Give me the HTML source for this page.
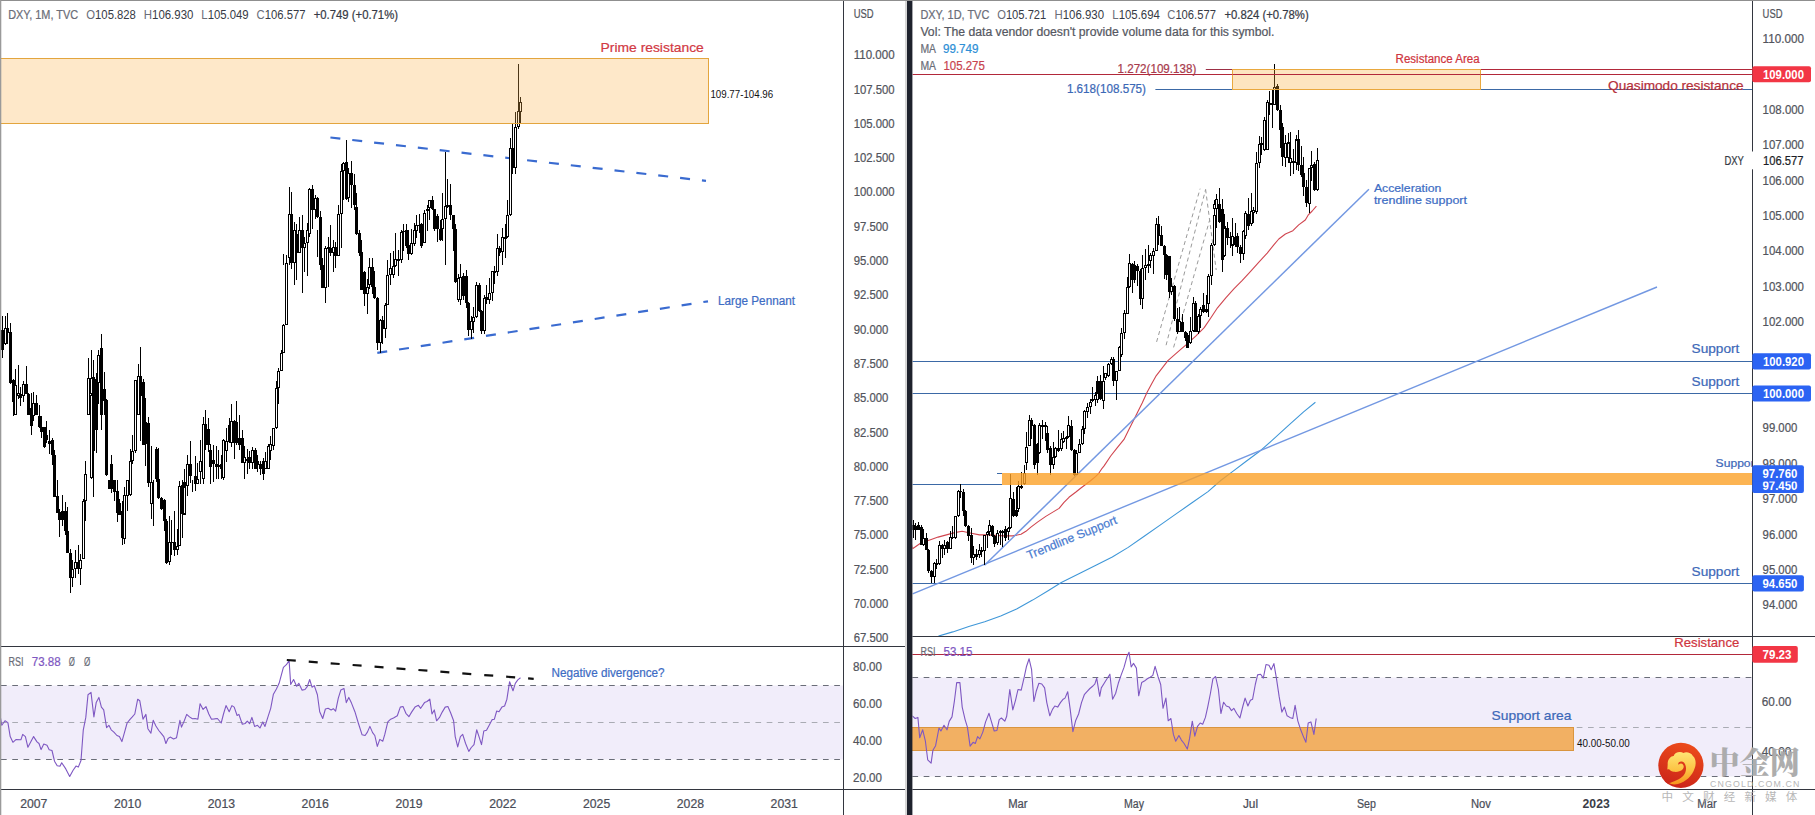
<!DOCTYPE html>
<html lang="en"><head><meta charset="utf-8"><title>DXY charts</title>
<style>
html,body{margin:0;padding:0;background:#fff;}
body{width:1815px;height:815px;overflow:hidden;}
svg{display:block;font-family:'Liberation Sans', 'Noto Sans CJK SC', sans-serif;}
</style></head><body>
<svg width="1815" height="815" viewBox="0 0 1815 815">
<rect width="1815" height="815" fill="#fff"/>
<rect x="1.0" y="685.5" width="842.5" height="74.0" fill="#f1edfa" />
<path d="M1.0 685.5H843.5" stroke="#6a6d78" stroke-width="1" stroke-dasharray="5.7 5.56"/>
<path d="M1.0 722.5H843.5" stroke="#a9abb3" stroke-width="1" stroke-dasharray="5.7 5.56"/>
<path d="M1.0 759.5H843.5" stroke="#6a6d78" stroke-width="1" stroke-dasharray="5.7 5.56"/>
<path d="M330.4 137.5L706.0 180.9" stroke="#3a6bd0" stroke-width="2.2" fill="none" stroke-linejoin="round" stroke-dasharray="10 12" stroke-linecap="butt"/>
<path d="M377.3 352.9L708.0 301.3" stroke="#3a6bd0" stroke-width="2.2" fill="none" stroke-linejoin="round" stroke-dasharray="10 12" stroke-linecap="butt"/>
<path d="M520 97h1V123h-1zM519 102h3V112h-3zM518 64h1V129h-1zM517 111h3V127h-3zM515 112h1V174h-1zM514 127h3V168h-3zM512 123h1V174h-1zM511 148h3V168h-3zM510 138h1V216h-1zM509 148h3V215h-3zM507 200h1V238h-1zM506 215h3V237h-3zM505 224h1V258h-1zM504 237h3V239h-3zM502 228h1V265h-1zM501 237h3V252h-3zM499 246h1V256h-1zM498 248h3V253h-3zM497 234h1V276h-1zM496 248h3V252h-3zM496 271h3V272h-3zM496 248h3V272h-3zM494 266h1V284h-1zM493 271h3V273h-3zM492 271h1V301h-1zM491 271h3V293h-3zM489 278h1V304h-1zM488 293h3V300h-3zM486 285h1V304h-1zM485 297h3V300h-3zM484 295h1V334h-1zM483 298h3V331h-3zM481 310h1V334h-1zM480 311h3V331h-3zM479 283h1V312h-1zM478 285h3V311h-3zM476 282h1V318h-1zM475 285h3V317h-3zM473 307h1V333h-1zM472 317h3V322h-3zM471 316h1V339h-1zM470 321h3V330h-3zM468 302h1V336h-1zM467 303h3V330h-3zM466 270h1V308h-1zM465 276h3V303h-3zM463 273h1V300h-1zM462 276h3V296h-3zM460 264h1V305h-1zM459 277h3V300h-3zM458 274h1V302h-1zM457 278h3V300h-3zM455 224h1V283h-1zM454 229h3V282h-3zM453 215h1V251h-1zM452 215h3V229h-3zM450 184h1V220h-1zM449 205h3V215h-3zM447 179h1V208h-1zM446 205h3V207h-3zM445 152h1V265h-1zM444 206h3V219h-3zM442 193h1V241h-1zM441 219h3V229h-3zM440 220h1V241h-1zM439 229h3V240h-3zM437 214h1V242h-1zM436 216h3V229h-3zM434 210h1V231h-1zM433 209h3V229h-3zM432 196h1V210h-1zM431 200h3V209h-3zM429 200h1V220h-1zM428 200h3V208h-3zM427 205h1V231h-1zM426 209h3V211h-3zM424 210h1V243h-1zM423 213h3V243h-3zM421 223h1V248h-1zM420 224h3V246h-3zM419 214h1V233h-1zM418 225h3V226h-3zM416 215h1V238h-1zM415 225h3V231h-3zM414 223h1V246h-1zM413 230h3V244h-3zM411 229h1V255h-1zM410 243h3V254h-3zM408 230h1V260h-1zM407 245h3V254h-3zM406 224h1V248h-1zM405 230h3V246h-3zM403 224h1V251h-1zM402 231h3V232h-3zM401 230h1V263h-1zM400 232h3V260h-3zM398 250h1V276h-1zM397 259h3V261h-3zM395 233h1V267h-1zM394 259h3V266h-3zM393 251h1V278h-1zM392 266h3V275h-3zM390 253h1V285h-1zM389 268h3V275h-3zM387 260h1V305h-1zM386 275h3V305h-3zM385 303h1V338h-1zM384 305h3V329h-3zM382 316h1V344h-1zM381 320h3V329h-3zM380 319h1V353h-1zM379 320h3V343h-3zM377 297h1V350h-1zM376 298h3V343h-3zM374 271h1V299h-1zM373 287h3V298h-3zM372 258h1V294h-1zM371 267h3V287h-3zM369 258h1V289h-1zM368 267h3V285h-3zM367 279h1V314h-1zM366 287h3V294h-3zM364 271h1V306h-1zM363 272h3V294h-3zM361 240h1V290h-1zM360 252h3V290h-3zM359 230h1V256h-1zM358 233h3V253h-3zM356 193h1V235h-1zM355 207h3V234h-3zM354 174h1V210h-1zM353 185h3V205h-3zM351 161h1V208h-1zM350 173h3V185h-3zM348 168h1V202h-1zM347 173h3V198h-3zM346 140h1V200h-1zM345 162h3V199h-3zM343 162h1V200h-1zM342 163h3V171h-3zM341 164h1V248h-1zM340 171h3V214h-3zM338 205h1V256h-1zM337 214h3V256h-3zM335 242h1V268h-1zM334 247h3V256h-3zM333 240h1V272h-1zM332 247h3V253h-3zM330 225h1V256h-1zM329 248h3V253h-3zM328 237h1V287h-1zM327 247h3V249h-3zM325 246h1V303h-1zM324 248h3V288h-3zM322 258h1V288h-1zM321 265h3V288h-3zM320 211h1V270h-1zM319 217h3V265h-3zM317 197h1V218h-1zM317 230h1V257h-1zM316 198h3V217h-3zM315 195h1V219h-1zM314 198h3V210h-3zM312 185h1V229h-1zM311 189h3V210h-3zM309 188h1V237h-1zM308 189h3V234h-3zM307 223h1V276h-1zM306 230h3V243h-3zM304 237h1V272h-1zM303 243h3V248h-3zM302 215h1V293h-1zM301 230h3V248h-3zM299 217h1V253h-1zM298 230h3V253h-3zM296 224h1V280h-1zM295 234h3V253h-3zM294 222h1V285h-1zM293 230h3V263h-3zM291 192h1V269h-1zM290 214h3V263h-3zM289 187h1V265h-1zM288 214h3V258h-3zM286 255h1V325h-1zM285 263h3V325h-3zM283 254h1V265h-1zM283 324h1V353h-1zM282 325h3V353h-3zM281 350h1V371h-1zM280 353h3V371h-3zM278 368h1V404h-1zM277 371h3V388h-3zM276 381h1V429h-1zM275 388h3V428h-3zM273 428h1V450h-1zM272 428h3V446h-3zM270 436h1V460h-1zM269 444h3V451h-3zM268 444h1V469h-1zM267 446h3V469h-3zM265 452h1V469h-1zM264 461h3V469h-3zM263 458h1V480h-1zM262 461h3V474h-3zM260 461h1V475h-1zM259 464h3V469h-3zM257 455h1V472h-1zM256 461h3V465h-3zM255 448h1V469h-1zM254 450h3V469h-3zM252 447h1V469h-1zM251 450h3V463h-3zM249 451h1V469h-1zM248 457h3V463h-3zM247 449h1V474h-1zM246 459h3V461h-3zM244 446h1V479h-1zM243 457h3V463h-3zM242 430h1V455h-1zM241 438h3V463h-3zM239 415h1V450h-1zM238 438h3V445h-3zM236 401h1V445h-1zM235 422h3V443h-3zM234 420h1V459h-1zM233 421h3V443h-3zM231 404h1V447h-1zM230 421h3V443h-3zM229 418h1V443h-1zM228 425h3V442h-3zM226 428h1V462h-1zM225 441h3V451h-3zM223 439h1V480h-1zM222 440h3V478h-3zM221 455h1V479h-1zM220 464h3V469h-3zM218 450h1V479h-1zM217 465h3V467h-3zM216 446h1V479h-1zM215 464h3V467h-3zM213 445h1V482h-1zM212 460h3V464h-3zM210 444h1V484h-1zM209 450h3V467h-3zM208 418h1V452h-1zM207 429h3V445h-3zM205 410h1V450h-1zM204 424h3V445h-3zM203 417h1V484h-1zM202 424h3V479h-3zM200 440h1V484h-1zM199 461h3V472h-3zM197 463h1V484h-1zM196 479h3V484h-3zM195 456h1V491h-1zM194 476h3V484h-3zM192 480h1V492h-1zM190 441h1V483h-1zM189 464h3V476h-3zM187 455h1V496h-1zM186 464h3V486h-3zM184 469h1V515h-1zM183 482h3V515h-3zM183 487h3V514h-3zM182 480h1V538h-1zM181 485h3V514h-3zM179 481h1V546h-1zM178 486h3V546h-3zM177 529h1V555h-1zM176 546h3V550h-3zM174 511h1V556h-1zM173 542h3V550h-3zM171 520h1V555h-1zM170 542h3V543h-3zM169 516h1V565h-1zM168 542h3V562h-3zM166 519h1V564h-1zM165 521h3V563h-3zM164 499h1V531h-1zM163 500h3V521h-3zM161 497h1V510h-1zM160 498h3V509h-3zM158 448h1V499h-1zM157 479h3V498h-3zM156 447h1V482h-1zM155 449h3V479h-3zM153 480h1V526h-1zM151 446h1V519h-1zM150 483h3V503h-3zM150 482h3V504h-3zM148 417h1V487h-1zM147 423h3V483h-3zM145 398h1V466h-1zM144 422h3V444h-3zM143 379h1V445h-1zM142 382h3V445h-3zM140 347h1V441h-1zM139 376h3V396h-3zM138 364h1V415h-1zM137 376h3V415h-3zM135 430h1V453h-1zM134 380h3V451h-3zM132 435h1V464h-1zM131 451h3V461h-3zM130 449h1V496h-1zM129 461h3V495h-3zM127 480h1V511h-1zM126 480h3V496h-3zM124 487h1V544h-1zM123 495h3V539h-3zM122 501h1V545h-1zM121 511h3V538h-3zM119 499h1V515h-1zM118 503h3V515h-3zM117 480h1V522h-1zM116 491h3V513h-3zM114 480h1V501h-1zM113 480h3V492h-3zM111 455h1V493h-1zM110 464h3V489h-3zM109 480h1V489h-1zM108 480h3V489h-3zM106 399h1V476h-1zM105 400h3V475h-3zM104 372h1V415h-1zM103 389h3V401h-3zM101 334h1V430h-1zM100 348h3V415h-3zM98 350h1V404h-1zM97 355h3V383h-3zM96 373h1V453h-1zM95 379h3V430h-3zM93 360h1V497h-1zM92 377h3V451h-3zM91 350h1V479h-1zM90 378h3V394h-3zM90 395h3V478h-3zM88 358h1V415h-1zM87 378h3V415h-3zM85 461h1V521h-1zM84 474h3V501h-3zM83 499h1V559h-1zM82 501h3V559h-3zM80 554h1V585h-1zM79 560h3V569h-3zM78 545h1V574h-1zM77 562h3V569h-3zM75 550h1V578h-1zM74 562h3V569h-3zM72 560h1V587h-1zM71 569h3V578h-3zM70 549h1V593h-1zM69 553h3V578h-3zM67 507h1V553h-1zM66 531h3V553h-3zM65 502h1V535h-1zM64 511h3V531h-3zM62 495h1V526h-1zM61 511h3V520h-3zM59 509h1V537h-1zM58 512h3V520h-3zM57 480h1V513h-1zM56 496h3V513h-3zM54 450h1V497h-1zM53 455h3V497h-3zM52 438h1V465h-1zM51 440h3V455h-3zM49 430h1V454h-1zM48 441h3V444h-3zM46 421h1V443h-1zM45 435h3V440h-3zM44 427h1V448h-1zM43 427h3V447h-3zM41 416h1V438h-1zM40 427h3V432h-3zM39 405h1V428h-1zM38 416h3V427h-3zM36 395h1V415h-1zM35 403h3V415h-3zM33 392h1V421h-1zM32 403h3V416h-3zM31 393h1V435h-1zM30 408h3V426h-3zM28 393h1V415h-1zM27 394h3V415h-3zM26 366h1V394h-1zM25 384h3V394h-3zM23 381h1V402h-1zM22 384h3V396h-3zM20 387h1V406h-1zM19 394h3V398h-3zM18 365h1V399h-1zM17 393h3V396h-3zM15 369h1V415h-1zM14 385h3V415h-3zM13 379h1V416h-1zM12 380h3V402h-3zM10 323h1V384h-1zM9 332h3V383h-3zM7 313h1V344h-1zM6 328h3V333h-3zM5 316h1V345h-1zM4 328h3V344h-3zM2 316h1V358h-1zM1 330h3V350h-3zM-1 297h1V335h-1zM-2 308h3V313h-3z" fill="#000" shape-rendering="crispEdges"/>
<path d="M520 103h1V111h-1zM518 112h1V126h-1zM515 128h1V167h-1zM510 149h1V214h-1zM507 216h1V236h-1zM502 238h1V251h-1zM497 249h1V271h-1zM492 272h1V292h-1zM489 294h1V299h-1zM484 299h1V330h-1zM476 286h1V316h-1zM473 318h1V321h-1zM471 322h1V329h-1zM460 278h1V299h-1zM458 279h1V299h-1zM445 207h1V218h-1zM442 220h1V228h-1zM429 201h1V207h-1zM424 214h1V242h-1zM416 226h1V230h-1zM414 231h1V243h-1zM411 244h1V253h-1zM401 233h1V259h-1zM395 260h1V265h-1zM393 267h1V274h-1zM390 269h1V274h-1zM387 276h1V304h-1zM385 306h1V328h-1zM380 321h1V342h-1zM369 268h1V284h-1zM367 288h1V293h-1zM348 174h1V197h-1zM343 164h1V170h-1zM341 172h1V213h-1zM338 215h1V255h-1zM333 248h1V252h-1zM325 249h1V287h-1zM315 199h1V209h-1zM309 190h1V233h-1zM307 231h1V242h-1zM304 244h1V247h-1zM299 231h1V252h-1zM294 231h1V262h-1zM289 215h1V257h-1zM286 264h1V324h-1zM283 326h1V352h-1zM281 354h1V370h-1zM278 372h1V387h-1zM276 389h1V427h-1zM273 429h1V445h-1zM270 445h1V450h-1zM268 447h1V468h-1zM265 462h1V468h-1zM252 451h1V462h-1zM244 458h1V462h-1zM231 422h1V442h-1zM226 442h1V450h-1zM223 441h1V477h-1zM203 425h1V478h-1zM200 462h1V471h-1zM197 480h1V483h-1zM187 465h1V485h-1zM184 488h1V513h-1zM179 487h1V545h-1zM177 547h1V549h-1zM169 543h1V561h-1zM151 483h1V503h-1zM138 377h1V414h-1zM135 381h1V450h-1zM132 452h1V460h-1zM130 462h1V494h-1zM127 481h1V495h-1zM124 496h1V538h-1zM98 356h1V382h-1zM91 379h1V393h-1zM91 396h1V477h-1zM88 379h1V414h-1zM85 475h1V500h-1zM83 502h1V558h-1zM80 561h1V568h-1zM75 563h1V568h-1zM72 570h1V577h-1zM33 404h1V415h-1zM23 385h1V395h-1zM18 394h1V395h-1zM15 386h1V414h-1zM5 329h1V343h-1z" fill="#fff" shape-rendering="crispEdges"/>
<rect x="-2.0" y="58.5" width="710.5" height="65.0" fill="rgba(252,178,75,0.30)" stroke="#e3a53e" stroke-width="1" />
<path d="M0.0 715.1L1.8 725.3L5.0 720.8L7.9 722.6L10.2 736.6L12.9 742.3L15.9 739.6L20.9 739.8L22.7 734.4L25.4 736.6L27.9 747.3L33.6 736.6L37.0 741.9L39.0 743.5L41.1 749.6L43.8 744.1L47.0 745.3L49.2 749.8L52.0 750.5L54.5 761.2L57.2 765.7L60.1 766.1L61.7 762.7L65.8 768.9L69.7 776.4L73.1 770.2L76.0 766.1L78.3 767.1L81.0 760.5L83.3 729.8L85.8 717.4L88.0 694.7L91.0 692.4L93.9 716.9L96.2 702.6L98.9 697.4L101.4 707.1L103.7 709.9L106.6 727.6L108.9 725.3L111.2 729.8L113.9 732.1L116.9 735.5L119.4 736.6L121.9 741.6L124.3 733.2L127.1 723.0L129.8 719.6L132.3 716.9L134.8 714.0L137.7 699.2L139.8 700.8L143.0 719.2L145.9 714.4L147.9 728.7L150.9 733.2L153.2 720.3L155.9 726.0L158.8 730.5L161.6 733.9L163.8 736.6L165.9 743.5L168.1 738.5L170.2 737.1L173.6 738.9L176.5 737.8L179.9 720.3L181.5 727.1L184.3 720.8L186.7 714.4L189.5 716.9L192.4 718.7L195.1 718.5L197.9 719.2L200.1 703.7L203.1 709.4L206.0 706.7L208.8 714.0L211.5 719.2L214.4 718.9L217.4 718.5L221.2 723.0L223.5 714.0L226.0 705.6L229.2 711.7L231.9 705.6L234.2 707.1L237.1 715.5L238.9 714.4L242.3 724.2L245.1 723.5L247.3 721.2L249.6 723.7L251.9 717.4L254.6 726.4L257.5 725.3L260.0 728.0L262.8 721.9L265.0 726.4L267.8 717.4L270.7 708.3L273.4 694.2L276.4 689.0L279.1 683.3L283.4 667.4L286.4 664.7L289.1 660.6L290.7 684.5L293.6 679.5L296.6 686.3L298.8 683.3L302.0 690.1L305.0 689.5L307.2 686.7L309.7 679.5L312.0 687.2L314.3 685.6L317.4 694.7L319.7 711.7L322.7 718.5L325.4 709.0L328.1 708.3L331.1 709.9L333.3 708.7L335.6 711.2L338.3 698.1L340.8 690.1L344.0 688.5L346.3 702.6L348.8 697.4L351.5 703.1L354.9 711.7L358.3 723.0L362.1 734.8L365.1 735.5L367.4 732.1L369.9 726.4L372.6 732.6L374.8 735.5L377.3 746.4L379.8 739.4L382.8 741.2L384.8 734.4L387.8 721.9L390.7 719.2L393.5 718.0L397.3 715.8L400.3 707.1L403.0 706.5L405.9 713.3L408.9 716.7L411.6 712.1L415.0 707.1L418.4 705.3L420.7 708.3L424.5 702.6L427.0 701.5L429.8 699.2L432.0 714.0L434.3 709.9L436.6 720.8L439.5 717.4L442.2 712.1L445.2 707.1L447.9 706.5L450.6 712.8L453.6 720.8L455.2 736.6L457.7 746.9L460.4 736.6L462.7 734.4L465.6 743.5L468.8 751.4L471.3 747.5L474.0 744.6L476.7 729.8L479.0 736.6L481.5 744.6L483.8 731.0L486.5 730.3L489.2 725.3L492.2 719.6L494.4 719.2L496.7 711.0L499.0 711.7L501.9 707.1L504.6 706.0L506.9 699.2L509.6 681.7L513.0 690.8L515.3 683.3L517.8 679.9L520.5 677.7" stroke="#7e57c2" stroke-width="1.1" fill="none" stroke-linejoin="round" />
<path d="M286.8 660.0L533.7 678.8" stroke="#111" stroke-width="2.2" fill="none" stroke-linejoin="round" stroke-dasharray="9 13"/>
<text x="8.2" y="19.2" font-size="12" fill="#6a6d78" textLength="69.9" lengthAdjust="spacingAndGlyphs" stroke="#6a6d78" stroke-width="0.22" >DXY, 1M, TVC</text>
<text x="86.3" y="19.2" font-size="12" textLength="49.6" lengthAdjust="spacingAndGlyphs"><tspan fill="#6a6d78">O</tspan><tspan fill="#363a45">105.828</tspan></text>
<text x="143.8" y="19.2" font-size="12" textLength="49.6" lengthAdjust="spacingAndGlyphs"><tspan fill="#6a6d78">H</tspan><tspan fill="#363a45">106.930</tspan></text>
<text x="201.3" y="19.2" font-size="12" textLength="47.4" lengthAdjust="spacingAndGlyphs"><tspan fill="#6a6d78">L</tspan><tspan fill="#363a45">105.049</tspan></text>
<text x="256.6" y="19.2" font-size="12" textLength="48.9" lengthAdjust="spacingAndGlyphs"><tspan fill="#6a6d78">C</tspan><tspan fill="#363a45">106.577</tspan></text>
<text x="313.7" y="19.2" font-size="12" fill="#363a45" textLength="84.3" lengthAdjust="spacingAndGlyphs" stroke="#363a45" stroke-width="0.22" >+0.749 (+0.71%)</text>
<text x="600.6" y="51.5" font-size="13.5" fill="#d23a44" textLength="103.2" lengthAdjust="spacingAndGlyphs" stroke="#d23a44" stroke-width="0.22" >Prime resistance</text>
<text x="710.4" y="98.2" font-size="10" fill="#111" textLength="62.8" lengthAdjust="spacingAndGlyphs" >109.77-104.96</text>
<text x="718.0" y="305.1" font-size="12" fill="#3d6cc4" textLength="77.0" lengthAdjust="spacingAndGlyphs" stroke="#3d6cc4" stroke-width="0.22" >Large Pennant</text>
<text x="551.6" y="677.3" font-size="12" fill="#3d6cc4" textLength="112.9" lengthAdjust="spacingAndGlyphs" stroke="#3d6cc4" stroke-width="0.22" >Negative divergence?</text>
<text x="8.4" y="666.1" font-size="12" fill="#6a6d78" textLength="15.0" lengthAdjust="spacingAndGlyphs" stroke="#6a6d78" stroke-width="0.22" >RSI</text>
<text x="31.8" y="666.1" font-size="12" fill="#7e57c2" textLength="28.8" lengthAdjust="spacingAndGlyphs" stroke="#7e57c2" stroke-width="0.22" >73.88</text>
<text x="68.8" y="666.1" font-size="12" fill="#6a6d78" textLength="6.1" lengthAdjust="spacingAndGlyphs" stroke="#6a6d78" stroke-width="0.22" >Ø</text>
<text x="84.0" y="666.1" font-size="12" fill="#6a6d78" textLength="6.3" lengthAdjust="spacingAndGlyphs" stroke="#6a6d78" stroke-width="0.22" >Ø</text>
<text x="853.7" y="17.8" font-size="12" fill="#52545c" textLength="19.9" lengthAdjust="spacingAndGlyphs" stroke="#52545c" stroke-width="0.22" >USD</text>
<text x="853.7" y="59.2" font-size="12" fill="#52545c" textLength="40.9" lengthAdjust="spacingAndGlyphs" stroke="#52545c" stroke-width="0.22" >110.000</text>
<text x="853.7" y="93.5" font-size="12" fill="#52545c" textLength="40.9" lengthAdjust="spacingAndGlyphs" stroke="#52545c" stroke-width="0.22" >107.500</text>
<text x="853.7" y="127.8" font-size="12" fill="#52545c" textLength="40.9" lengthAdjust="spacingAndGlyphs" stroke="#52545c" stroke-width="0.22" >105.000</text>
<text x="853.7" y="162.1" font-size="12" fill="#52545c" textLength="40.9" lengthAdjust="spacingAndGlyphs" stroke="#52545c" stroke-width="0.22" >102.500</text>
<text x="853.7" y="196.4" font-size="12" fill="#52545c" textLength="40.9" lengthAdjust="spacingAndGlyphs" stroke="#52545c" stroke-width="0.22" >100.000</text>
<text x="853.7" y="230.7" font-size="12" fill="#52545c" textLength="34.6" lengthAdjust="spacingAndGlyphs" stroke="#52545c" stroke-width="0.22" >97.500</text>
<text x="853.7" y="265.0" font-size="12" fill="#52545c" textLength="34.6" lengthAdjust="spacingAndGlyphs" stroke="#52545c" stroke-width="0.22" >95.000</text>
<text x="853.7" y="299.3" font-size="12" fill="#52545c" textLength="34.6" lengthAdjust="spacingAndGlyphs" stroke="#52545c" stroke-width="0.22" >92.500</text>
<text x="853.7" y="333.6" font-size="12" fill="#52545c" textLength="34.6" lengthAdjust="spacingAndGlyphs" stroke="#52545c" stroke-width="0.22" >90.000</text>
<text x="853.7" y="367.9" font-size="12" fill="#52545c" textLength="34.6" lengthAdjust="spacingAndGlyphs" stroke="#52545c" stroke-width="0.22" >87.500</text>
<text x="853.7" y="402.2" font-size="12" fill="#52545c" textLength="34.6" lengthAdjust="spacingAndGlyphs" stroke="#52545c" stroke-width="0.22" >85.000</text>
<text x="853.7" y="436.5" font-size="12" fill="#52545c" textLength="34.6" lengthAdjust="spacingAndGlyphs" stroke="#52545c" stroke-width="0.22" >82.500</text>
<text x="853.7" y="470.8" font-size="12" fill="#52545c" textLength="34.6" lengthAdjust="spacingAndGlyphs" stroke="#52545c" stroke-width="0.22" >80.000</text>
<text x="853.7" y="505.1" font-size="12" fill="#52545c" textLength="34.6" lengthAdjust="spacingAndGlyphs" stroke="#52545c" stroke-width="0.22" >77.500</text>
<text x="853.7" y="539.4" font-size="12" fill="#52545c" textLength="34.6" lengthAdjust="spacingAndGlyphs" stroke="#52545c" stroke-width="0.22" >75.000</text>
<text x="853.7" y="573.7" font-size="12" fill="#52545c" textLength="34.6" lengthAdjust="spacingAndGlyphs" stroke="#52545c" stroke-width="0.22" >72.500</text>
<text x="853.7" y="608.0" font-size="12" fill="#52545c" textLength="34.6" lengthAdjust="spacingAndGlyphs" stroke="#52545c" stroke-width="0.22" >70.000</text>
<text x="853.7" y="642.3" font-size="12" fill="#52545c" textLength="34.6" lengthAdjust="spacingAndGlyphs" stroke="#52545c" stroke-width="0.22" >67.500</text>
<text x="853.0" y="670.8" font-size="12" fill="#52545c" textLength="29.0" lengthAdjust="spacingAndGlyphs" stroke="#52545c" stroke-width="0.22" >80.00</text>
<text x="853.0" y="707.7" font-size="12" fill="#52545c" textLength="29.0" lengthAdjust="spacingAndGlyphs" stroke="#52545c" stroke-width="0.22" >60.00</text>
<text x="853.0" y="744.9" font-size="12" fill="#52545c" textLength="29.0" lengthAdjust="spacingAndGlyphs" stroke="#52545c" stroke-width="0.22" >40.00</text>
<text x="853.0" y="781.9" font-size="12" fill="#52545c" textLength="29.0" lengthAdjust="spacingAndGlyphs" stroke="#52545c" stroke-width="0.22" >20.00</text>
<text x="20.2" y="807.5" font-size="12.5" fill="#4a4d57" textLength="27.2" lengthAdjust="spacingAndGlyphs" stroke="#4a4d57" stroke-width="0.22" >2007</text>
<text x="114.0" y="807.5" font-size="12.5" fill="#4a4d57" textLength="27.2" lengthAdjust="spacingAndGlyphs" stroke="#4a4d57" stroke-width="0.22" >2010</text>
<text x="207.8" y="807.5" font-size="12.5" fill="#4a4d57" textLength="27.2" lengthAdjust="spacingAndGlyphs" stroke="#4a4d57" stroke-width="0.22" >2013</text>
<text x="301.6" y="807.5" font-size="12.5" fill="#4a4d57" textLength="27.2" lengthAdjust="spacingAndGlyphs" stroke="#4a4d57" stroke-width="0.22" >2016</text>
<text x="395.4" y="807.5" font-size="12.5" fill="#4a4d57" textLength="27.2" lengthAdjust="spacingAndGlyphs" stroke="#4a4d57" stroke-width="0.22" >2019</text>
<text x="489.2" y="807.5" font-size="12.5" fill="#4a4d57" textLength="27.2" lengthAdjust="spacingAndGlyphs" stroke="#4a4d57" stroke-width="0.22" >2022</text>
<text x="583.0" y="807.5" font-size="12.5" fill="#4a4d57" textLength="27.2" lengthAdjust="spacingAndGlyphs" stroke="#4a4d57" stroke-width="0.22" >2025</text>
<text x="676.8" y="807.5" font-size="12.5" fill="#4a4d57" textLength="27.2" lengthAdjust="spacingAndGlyphs" stroke="#4a4d57" stroke-width="0.22" >2028</text>
<text x="770.6" y="807.5" font-size="12.5" fill="#4a4d57" textLength="27.2" lengthAdjust="spacingAndGlyphs" stroke="#4a4d57" stroke-width="0.22" >2031</text>
<path d="M0.0 646.5H907.0" stroke="#33363f" stroke-width="1" />
<path d="M0.0 789.5H907.0" stroke="#33363f" stroke-width="1" />
<path d="M843.5 0.0V815.0" stroke="#33363f" stroke-width="1" />
<clipPath id="rc"><rect x="912.4" y="0" width="840.1" height="636"/></clipPath>
<clipPath id="rr"><rect x="912.4" y="636" width="840.1" height="154"/></clipPath>
<rect x="912.4" y="677.5" width="840.1" height="99.0" fill="#f1edfa" />
<path d="M912.4 677.5H1752.5" stroke="#6a6d78" stroke-width="1" stroke-dasharray="5.7 5.56"/>
<path d="M912.4 727.5H1752.5" stroke="#a9abb3" stroke-width="1" stroke-dasharray="5.7 5.56"/>
<path d="M912.4 776.5H1752.5" stroke="#6a6d78" stroke-width="1" stroke-dasharray="5.7 5.56"/>
<rect x="910.4" y="727.5" width="663.1" height="23.0" fill="#f2b063" stroke="#d9953f" stroke-width="1" />
<path d="M912.4 654.5H1752.5" stroke="#b2283a" stroke-width="1" />
<g clip-path="url(#rc)">
<path d="M912.4 74.5H1752.5" stroke="#b2283a" stroke-width="1" />
<path d="M1205.8 69.5H1232.3" stroke="#9c2f45" stroke-width="1" />
<path d="M1480.3 69.5H1752.5" stroke="#b2283a" stroke-width="1" />
<path d="M1155.4 89.5H1232.3" stroke="#3b69a6" stroke-width="1" />
<path d="M1480.3 89.5H1752.5" stroke="#3b69a6" stroke-width="1" />
<path d="M912.4 361.5H1752.5" stroke="#3b69a6" stroke-width="1" />
<path d="M912.4 393.5H1752.5" stroke="#3b69a6" stroke-width="1" />
<path d="M912.4 583.5H1752.5" stroke="#3b69a6" stroke-width="1" />
<path d="M912.4 484.5H1002.0" stroke="#3b69a6" stroke-width="1" />
<path d="M997.0 473.5H1002.0" stroke="#3b69a6" stroke-width="1" />
<path d="M938.5 636.1L952.8 631.9L968.8 626.5L984.7 621.7L1000.7 616.0L1016.6 609.0L1032.6 600.1L1048.5 590.5L1061.3 582.5L1080.4 572.9L1096.4 565.0L1112.3 557.0L1128.2 547.4L1144.2 536.3L1160.1 525.1L1176.1 513.9L1192.0 502.8L1208.0 491.6L1220.7 480.5L1233.5 470.9L1246.2 461.3L1259.0 451.8L1271.8 440.6L1287.7 426.2L1303.6 411.9L1315.4 402.3" stroke="#3f97d8" stroke-width="1.1" fill="none" stroke-linejoin="round" />
<path d="M905.0 515.0L912.5 548.7L921.6 542.5L929.8 539.9L938.1 537.1L946.4 534.9L954.7 532.6L962.1 531.3L971.3 533.2L979.5 534.9L987.8 534.9L996.1 535.4L1004.4 535.9L1012.7 535.9L1021.0 534.2L1025.9 531.3L1030.9 527.1L1037.5 522.1L1045.8 516.4L1054.1 511.4L1059.1 508.4L1064.0 502.3L1069.0 497.3L1075.6 492.3L1080.6 488.2L1085.6 484.5L1090.5 480.7L1095.5 476.6L1098.8 473.3L1102.1 468.3L1104.1 465.9L1110.7 456.0L1117.3 447.7L1124.0 439.4L1128.9 429.4L1133.1 421.2L1137.2 412.9L1142.2 402.9L1147.1 392.2L1152.1 383.1L1156.3 375.6L1162.1 368.2L1167.9 360.7L1175.3 354.1L1181.9 348.3L1186.9 344.1L1196.0 335.9L1204.2 327.6L1210.9 317.7L1217.5 307.8L1225.8 297.8L1234.1 288.7L1242.3 280.4L1250.6 271.3L1258.9 262.2L1267.2 253.1L1273.8 244.8L1278.8 239.0L1285.4 234.0L1292.9 230.7L1298.7 224.9L1305.3 220.0L1308.1 215.2L1312.2 211.0L1316.4 206.1" stroke="#d0454f" stroke-width="1.1" fill="none" stroke-linejoin="round" />
<path d="M912.5 593.9L1657.0 287.0" stroke="#7398e2" stroke-width="1.4" fill="none" stroke-linejoin="round" />
<path d="M984.5 565.2L1368.9 189.2" stroke="#7398e2" stroke-width="1.5" fill="none" stroke-linejoin="round" />
<path d="M1156.6 341.9L1200.1 188.7" stroke="#9a9a9a" stroke-width="1" fill="none" stroke-linejoin="round" stroke-dasharray="4 3.2"/>
<path d="M1166.1 345.2L1205.6 189.4" stroke="#9a9a9a" stroke-width="1" fill="none" stroke-linejoin="round" stroke-dasharray="4 3.2"/>
<path d="M1173.6 347.4L1209.6 220.2" stroke="#9a9a9a" stroke-width="1" fill="none" stroke-linejoin="round" stroke-dasharray="4 3.2"/>
<path d="M1205.6 189.4L1216.2 270.0" stroke="#9a9a9a" stroke-width="1" fill="none" stroke-linejoin="round" stroke-dasharray="4 3.2"/>
<path d="M1317 148h1V191h-1zM1316 160h3V190h-3zM1314 162h1V191h-1zM1313 164h3V190h-3zM1311 151h1V181h-1zM1310 165h3V167h-3zM1310 165h3V168h-3zM1309 168h1V213h-1zM1308 168h3V204h-3zM1306 180h1V207h-1zM1305 187h3V203h-3zM1303 157h1V196h-1zM1302 173h3V187h-3zM1301 146h1V177h-1zM1300 165h3V175h-3zM1298 130h1V171h-1zM1297 139h3V165h-3zM1296 135h1V170h-1zM1295 139h3V163h-3zM1295 140h3V163h-3zM1293 149h1V174h-1zM1292 161h3V163h-3zM1290 132h1V176h-1zM1289 158h3V163h-3zM1288 133h1V163h-1zM1287 142h3V158h-3zM1287 143h3V158h-3zM1285 135h1V167h-1zM1284 144h3V157h-3zM1284 143h3V158h-3zM1282 123h1V166h-1zM1281 127h3V157h-3zM1280 105h1V148h-1zM1279 110h3V130h-3zM1277 84h1V111h-1zM1276 86h3V110h-3zM1274 64h1V105h-1zM1273 87h3V105h-3zM1272 89h1V128h-1zM1271 103h3V105h-3zM1269 91h1V115h-1zM1268 103h3V105h-3zM1267 100h1V150h-1zM1266 102h3V150h-3zM1264 117h1V151h-1zM1263 120h3V150h-3zM1261 137h1V155h-1zM1260 143h3V145h-3zM1259 136h1V168h-1zM1258 144h3V163h-3zM1256 152h1V214h-1zM1255 163h3V212h-3zM1253 207h1V223h-1zM1252 210h3V213h-3zM1251 193h1V226h-1zM1250 211h3V224h-3zM1248 198h1V230h-1zM1247 214h3V226h-3zM1245 211h1V239h-1zM1244 213h3V236h-3zM1243 230h1V260h-1zM1242 231h3V254h-3zM1240 245h1V263h-1zM1239 247h3V254h-3zM1237 233h1V253h-1zM1236 236h3V247h-3zM1235 223h1V247h-1zM1234 237h3V245h-3zM1232 218h1V256h-1zM1231 237h3V246h-3zM1231 236h3V245h-3zM1230 232h1V248h-1zM1229 237h3V238h-3zM1227 222h1V245h-1zM1226 228h3V238h-3zM1224 214h1V257h-1zM1223 226h3V245h-3zM1223 228h3V256h-3zM1222 199h1V272h-1zM1221 209h3V260h-3zM1219 188h1V223h-1zM1218 204h3V222h-3zM1216 194h1V228h-1zM1215 199h3V209h-3zM1214 200h1V246h-1zM1213 204h3V209h-3zM1213 215h3V245h-3zM1211 243h1V285h-1zM1210 245h3V276h-3zM1208 274h1V317h-1zM1207 276h3V304h-3zM1206 295h1V313h-1zM1205 309h3V312h-3zM1203 293h1V313h-1zM1202 305h3V312h-3zM1200 307h1V328h-1zM1199 309h3V316h-3zM1198 314h1V334h-1zM1197 316h3V332h-3zM1195 301h1V332h-1zM1194 303h3V332h-3zM1193 297h1V332h-1zM1192 303h3V331h-3zM1190 317h1V344h-1zM1189 331h3V343h-3zM1187 333h1V348h-1zM1186 335h3V348h-3zM1185 331h1V341h-1zM1184 332h3V338h-3zM1182 314h1V332h-1zM1181 322h3V332h-3zM1179 307h1V332h-1zM1178 321h3V332h-3zM1177 308h1V334h-1zM1176 319h3V332h-3zM1174 285h1V321h-1zM1173 286h3V319h-3zM1171 278h1V295h-1zM1170 286h3V292h-3zM1169 256h1V298h-1zM1168 256h3V292h-3zM1166 254h1V280h-1zM1165 255h3V275h-3zM1164 245h1V279h-1zM1163 246h3V255h-3zM1161 226h1V246h-1zM1160 235h3V246h-3zM1158 216h1V245h-1zM1157 224h3V236h-3zM1156 218h1V251h-1zM1155 224h3V251h-3zM1153 248h1V274h-1zM1152 251h3V256h-3zM1150 253h1V268h-1zM1149 255h3V261h-3zM1148 245h1V273h-1zM1147 264h3V266h-3zM1145 249h1V280h-1zM1144 265h3V268h-3zM1142 255h1V309h-1zM1141 268h3V299h-3zM1140 269h1V305h-1zM1139 271h3V299h-3zM1137 264h1V286h-1zM1136 266h3V271h-3zM1134 261h1V283h-1zM1133 265h3V280h-3zM1132 263h1V293h-1zM1131 264h3V280h-3zM1129 254h1V288h-1zM1128 263h3V287h-3zM1127 277h1V314h-1zM1126 287h3V314h-3zM1124 310h1V339h-1zM1123 313h3V333h-3zM1121 328h1V357h-1zM1120 333h3V355h-3zM1119 346h1V371h-1zM1118 347h3V371h-3zM1116 371h1V400h-1zM1115 371h3V381h-3zM1113 357h1V386h-1zM1112 359h3V381h-3zM1111 357h1V365h-1zM1110 359h3V364h-3zM1108 363h1V377h-1zM1107 364h3V376h-3zM1105 373h1V380h-1zM1104 373h3V378h-3zM1103 366h1V409h-1zM1102 381h3V401h-3zM1100 375h1V400h-1zM1099 381h3V399h-3zM1097 376h1V403h-1zM1096 381h3V400h-3zM1096 393h3V400h-3zM1095 392h1V406h-1zM1094 395h3V400h-3zM1092 387h1V402h-1zM1091 399h3V401h-3zM1090 399h1V414h-1zM1089 402h3V407h-3zM1087 403h1V418h-1zM1086 407h3V412h-3zM1084 410h1V434h-1zM1083 411h3V429h-3zM1082 426h1V445h-1zM1081 429h3V444h-3zM1079 439h1V453h-1zM1078 444h3V453h-3zM1076 450h1V475h-1zM1075 453h3V475h-3zM1074 449h1V476h-1zM1073 450h3V475h-3zM1071 420h1V451h-1zM1070 426h3V450h-3zM1068 416h1V438h-1zM1067 425h3V437h-3zM1066 436h1V449h-1zM1065 437h3V439h-3zM1063 431h1V443h-1zM1062 438h3V442h-3zM1061 433h1V451h-1zM1060 439h3V449h-3zM1058 430h1V452h-1zM1057 448h3V451h-3zM1055 447h1V458h-1zM1054 448h3V457h-3zM1053 442h1V469h-1zM1052 457h3V465h-3zM1050 446h1V475h-1zM1049 448h3V465h-3zM1047 426h1V453h-1zM1046 433h3V450h-3zM1045 422h1V441h-1zM1044 425h3V427h-3zM1042 420h1V439h-1zM1041 425h3V427h-3zM1039 423h1V454h-1zM1038 425h3V453h-3zM1037 443h1V475h-1zM1036 444h3V463h-3zM1034 424h1V469h-1zM1033 425h3V465h-3zM1031 418h1V439h-1zM1030 420h3V426h-3zM1029 415h1V446h-1zM1028 420h3V446h-3zM1026 432h1V470h-1zM1025 447h3V463h-3zM1024 465h1V485h-1zM1023 473h3V484h-3zM1021 472h1V489h-1zM1020 486h3V488h-3zM1018 481h1V512h-1zM1017 486h3V509h-3zM1016 487h1V517h-1zM1015 510h3V516h-3zM1013 492h1V517h-1zM1012 499h3V516h-3zM1010 474h1V529h-1zM1009 498h3V528h-3zM1008 527h1V540h-1zM1007 528h3V532h-3zM1005 526h1V541h-1zM1004 529h3V538h-3zM1002 530h1V547h-1zM1001 531h3V533h-3zM1000 530h1V545h-1zM999 531h3V533h-3zM997 530h1V545h-1zM996 533h3V543h-3zM994 535h1V547h-1zM993 536h3V544h-3zM992 525h1V537h-1zM991 526h3V536h-3zM989 520h1V536h-1zM988 525h3V532h-3zM987 531h1V548h-1zM986 532h3V535h-3zM984 535h1V565h-1zM983 535h3V551h-3zM981 547h1V557h-1zM980 550h3V552h-3zM979 544h1V558h-1zM978 550h3V555h-3zM976 549h1V560h-1zM975 554h3V557h-3zM973 546h1V565h-1zM972 554h3V558h-3zM971 528h1V563h-1zM970 535h3V558h-3zM968 525h1V541h-1zM967 526h3V536h-3zM965 510h1V527h-1zM964 511h3V526h-3zM963 489h1V516h-1zM962 492h3V511h-3zM960 484h1V498h-1zM959 491h3V492h-3zM958 490h1V517h-1zM957 491h3V516h-3zM955 516h1V539h-1zM954 516h3V538h-3zM952 526h1V539h-1zM951 537h3V538h-3zM950 531h1V549h-1zM949 537h3V549h-3zM947 541h1V553h-1zM946 542h3V549h-3zM944 540h1V555h-1zM943 545h3V549h-3zM942 544h1V558h-1zM941 545h3V549h-3zM939 541h1V565h-1zM938 545h3V564h-3zM936 559h1V569h-1zM935 563h3V565h-3zM934 562h1V583h-1zM933 563h3V577h-3zM931 570h1V583h-1zM930 571h3V577h-3zM928 549h1V573h-1zM927 550h3V571h-3zM926 533h1V550h-1zM925 538h3V550h-3zM923 529h1V546h-1zM922 538h3V545h-3zM921 525h1V545h-1zM920 527h3V545h-3zM918 522h1V530h-1zM917 525h3V530h-3zM915 523h1V540h-1zM914 526h3V530h-3zM913 520h1V538h-1zM912 525h3V530h-3z" fill="#000" shape-rendering="crispEdges"/>
<path d="M1317 161h1V189h-1zM1311 166h1V167h-1zM1309 169h1V203h-1zM1296 141h1V162h-1zM1290 159h1V162h-1zM1288 144h1V157h-1zM1285 144h1V157h-1zM1274 88h1V104h-1zM1267 103h1V149h-1zM1264 121h1V149h-1zM1259 145h1V162h-1zM1256 164h1V211h-1zM1253 211h1V212h-1zM1251 212h1V223h-1zM1245 214h1V235h-1zM1243 232h1V253h-1zM1232 237h1V244h-1zM1224 229h1V255h-1zM1216 200h1V208h-1zM1214 205h1V208h-1zM1214 216h1V244h-1zM1211 246h1V275h-1zM1208 277h1V303h-1zM1200 310h1V315h-1zM1198 317h1V331h-1zM1193 304h1V330h-1zM1190 332h1V342h-1zM1179 322h1V331h-1zM1171 287h1V291h-1zM1156 225h1V250h-1zM1153 252h1V255h-1zM1150 256h1V260h-1zM1145 266h1V267h-1zM1142 269h1V298h-1zM1129 264h1V286h-1zM1127 288h1V313h-1zM1124 314h1V332h-1zM1121 334h1V354h-1zM1119 348h1V370h-1zM1116 372h1V380h-1zM1111 360h1V363h-1zM1108 365h1V375h-1zM1105 374h1V377h-1zM1103 382h1V400h-1zM1097 394h1V399h-1zM1095 396h1V399h-1zM1090 403h1V406h-1zM1087 408h1V411h-1zM1084 412h1V428h-1zM1082 430h1V443h-1zM1079 445h1V452h-1zM1076 454h1V474h-1zM1068 426h1V436h-1zM1063 439h1V441h-1zM1061 440h1V448h-1zM1055 449h1V456h-1zM1053 458h1V464h-1zM1039 426h1V452h-1zM1029 421h1V445h-1zM1026 448h1V462h-1zM1024 474h1V483h-1zM1018 487h1V508h-1zM1010 499h1V527h-1zM1008 529h1V531h-1zM997 534h1V542h-1zM989 526h1V531h-1zM987 533h1V534h-1zM984 536h1V550h-1zM979 551h1V554h-1zM973 555h1V557h-1zM958 492h1V515h-1zM955 517h1V537h-1zM950 538h1V548h-1zM944 546h1V548h-1zM939 546h1V563h-1zM934 564h1V576h-1zM923 539h1V544h-1z" fill="#fff" shape-rendering="crispEdges"/>
<rect x="1232.5" y="69.5" width="248.0" height="20.0" fill="rgba(248,168,45,0.30)" stroke="#e9a83e" stroke-width="1" />
<path d="M1232.5 74.5H1480.5" stroke="#b2283a" stroke-width="1" />
<rect x="1002.0" y="473.0" width="752.5" height="12.0" fill="rgba(251,161,40,0.80)" />
</g>
<g clip-path="url(#rr)">
<path d="M912.3 715.8L915.2 718.5L917.9 717.4L919.7 737.8L922.7 729.8L925.4 741.2L927.7 759.8L931.1 763.2L932.9 750.3L935.6 745.7L939.0 728.0L940.9 731.0L944.0 725.3L947.0 729.8L949.2 721.4L952.0 716.9L954.5 700.3L956.7 682.6L959.9 682.6L962.2 707.1L965.1 719.6L967.4 727.1L970.1 746.2L973.1 742.3L975.3 743.5L977.6 736.6L979.9 738.9L982.8 732.1L985.6 721.9L989.0 713.3L991.2 720.8L994.2 731.0L996.9 730.5L999.2 719.6L1001.4 718.0L1004.8 721.2L1006.7 716.2L1009.8 689.5L1012.8 709.9L1015.5 700.3L1018.0 689.5L1021.2 690.1L1024.1 677.7L1026.4 666.8L1029.1 658.8L1031.6 669.7L1033.9 701.5L1036.2 691.3L1038.9 683.3L1041.8 684.0L1044.6 687.9L1046.8 702.6L1049.8 715.8L1052.5 709.4L1054.8 706.0L1057.7 707.1L1060.4 702.6L1063.2 699.2L1065.0 698.1L1067.7 691.7L1070.2 709.4L1072.9 731.7L1075.6 720.8L1078.6 714.0L1081.5 702.6L1084.3 694.7L1087.2 691.3L1089.9 688.5L1092.9 686.0L1094.9 683.8L1096.7 678.1L1099.7 696.3L1101.3 687.9L1104.2 683.3L1107.0 678.8L1109.9 674.2L1112.6 699.2L1115.6 693.5L1118.3 683.3L1121.2 674.9L1124.0 667.4L1126.9 656.8L1129.0 652.2L1131.2 667.0L1133.5 663.4L1136.4 668.1L1138.7 695.8L1141.7 682.6L1144.4 681.1L1147.3 678.8L1150.1 677.2L1152.8 675.4L1155.1 666.3L1158.0 676.5L1160.7 684.5L1163.0 708.3L1165.9 698.1L1168.2 720.8L1170.9 718.5L1173.4 734.4L1175.7 741.2L1178.9 735.5L1181.4 740.1L1184.1 743.5L1187.3 749.1L1189.5 738.9L1192.3 721.2L1194.8 736.2L1197.5 726.4L1200.2 723.0L1202.7 724.2L1205.4 717.4L1207.7 707.1L1210.4 693.5L1212.9 678.8L1215.6 676.5L1218.4 689.5L1220.9 713.5L1223.6 702.2L1226.3 706.0L1229.2 707.1L1231.5 710.6L1233.8 708.3L1236.7 713.5L1239.9 718.0L1242.9 706.0L1245.1 698.1L1247.9 706.0L1250.4 700.3L1252.6 699.2L1255.3 684.5L1257.6 674.9L1260.6 674.2L1263.3 678.1L1266.0 664.5L1269.0 665.2L1271.2 669.7L1273.9 663.6L1276.4 678.1L1279.2 696.9L1281.9 712.1L1284.4 707.1L1287.1 715.8L1289.8 717.4L1292.8 718.5L1295.1 705.3L1297.8 720.8L1300.7 729.8L1303.4 736.6L1305.9 742.3L1308.2 723.0L1310.9 721.9L1313.9 734.4L1316.2 718.5" stroke="#7e57c2" stroke-width="1.1" fill="none" stroke-linejoin="round" />
</g>
<text x="920.4" y="19.2" font-size="12" fill="#6a6d78" textLength="68.9" lengthAdjust="spacingAndGlyphs" stroke="#6a6d78" stroke-width="0.22" >DXY, 1D, TVC</text>
<text x="997.2" y="19.2" font-size="12" textLength="49.1" lengthAdjust="spacingAndGlyphs"><tspan fill="#6a6d78">O</tspan><tspan fill="#363a45">105.721</tspan></text>
<text x="1054.5" y="19.2" font-size="12" textLength="49.6" lengthAdjust="spacingAndGlyphs"><tspan fill="#6a6d78">H</tspan><tspan fill="#363a45">106.930</tspan></text>
<text x="1112.3" y="19.2" font-size="12" textLength="47.6" lengthAdjust="spacingAndGlyphs"><tspan fill="#6a6d78">L</tspan><tspan fill="#363a45">105.694</tspan></text>
<text x="1167.3" y="19.2" font-size="12" textLength="48.6" lengthAdjust="spacingAndGlyphs"><tspan fill="#6a6d78">C</tspan><tspan fill="#363a45">106.577</tspan></text>
<text x="1224.4" y="19.2" font-size="12" fill="#363a45" textLength="84.3" lengthAdjust="spacingAndGlyphs" stroke="#363a45" stroke-width="0.22" >+0.824 (+0.78%)</text>
<text x="920.4" y="36.0" font-size="12" fill="#555862" textLength="354.1" lengthAdjust="spacingAndGlyphs" stroke="#555862" stroke-width="0.22" >Vol: The data vendor doesn't provide volume data for this symbol.</text>
<text x="920.4" y="52.7" font-size="12" fill="#6a6d78" textLength="15.6" lengthAdjust="spacingAndGlyphs" stroke="#6a6d78" stroke-width="0.22" >MA</text>
<text x="942.9" y="52.7" font-size="12" fill="#2e8fd6" textLength="35.7" lengthAdjust="spacingAndGlyphs" stroke="#2e8fd6" stroke-width="0.22" >99.749</text>
<text x="920.4" y="70.0" font-size="12" fill="#6a6d78" textLength="15.6" lengthAdjust="spacingAndGlyphs" stroke="#6a6d78" stroke-width="0.22" >MA</text>
<text x="943.4" y="70.0" font-size="12" fill="#c8434f" textLength="41.4" lengthAdjust="spacingAndGlyphs" stroke="#c8434f" stroke-width="0.22" >105.275</text>
<text x="1117.5" y="73.0" font-size="12" fill="#a83a4c" textLength="78.8" lengthAdjust="spacingAndGlyphs" stroke="#a83a4c" stroke-width="0.22" >1.272(109.138)</text>
<text x="1066.9" y="92.8" font-size="12" fill="#3b68b6" textLength="79.1" lengthAdjust="spacingAndGlyphs" stroke="#3b68b6" stroke-width="0.22" >1.618(108.575)</text>
<text x="1395.6" y="63.3" font-size="12" fill="#cf3540" textLength="84.0" lengthAdjust="spacingAndGlyphs" stroke="#cf3540" stroke-width="0.22" >Resistance Area</text>
<text x="1608.1" y="90.2" font-size="13.5" fill="#b5303a" textLength="135.5" lengthAdjust="spacingAndGlyphs" stroke="#b5303a" stroke-width="0.22" >Quasimodo resistance</text>
<text x="1373.9" y="192.4" font-size="11.5" fill="#3d6cc4" textLength="67.4" lengthAdjust="spacingAndGlyphs" stroke="#3d6cc4" stroke-width="0.22" >Acceleration</text>
<text x="1373.9" y="204.1" font-size="11.5" fill="#3d6cc4" textLength="93.1" lengthAdjust="spacingAndGlyphs" stroke="#3d6cc4" stroke-width="0.22" >trendline support</text>
<text x="1691.6" y="353.1" font-size="13.5" fill="#3d68b8" textLength="47.7" lengthAdjust="spacingAndGlyphs" stroke="#3d68b8" stroke-width="0.22" >Support</text>
<text x="1691.6" y="385.9" font-size="13.5" fill="#3d68b8" textLength="47.7" lengthAdjust="spacingAndGlyphs" stroke="#3d68b8" stroke-width="0.22" >Support</text>
<text x="1691.6" y="576.4" font-size="13.5" fill="#3d68b8" textLength="47.7" lengthAdjust="spacingAndGlyphs" stroke="#3d68b8" stroke-width="0.22" >Support</text>
<clipPath id="sc"><rect x="1700" y="450" width="52.0" height="25"/></clipPath>
<text x="1715.6" y="467.0" font-size="11.5" fill="#3d68b8" textLength="42.4" lengthAdjust="spacingAndGlyphs" stroke="#3d68b8" stroke-width="0.22" clip-path="url(#sc)">Support</text>
<g transform="translate(1028.6,559.5) rotate(-22.2)">
<text x="0.0" y="0.1" font-size="12" fill="#4a7bd0" textLength="96.5" lengthAdjust="spacingAndGlyphs" stroke="#4a7bd0" stroke-width="0.22" >Trendline Support</text>
</g>
<text x="1674.3" y="647.4" font-size="13.5" fill="#cf3540" textLength="65.0" lengthAdjust="spacingAndGlyphs" stroke="#cf3540" stroke-width="0.22" >Resistance</text>
<text x="1491.6" y="719.7" font-size="13.5" fill="#3d68b8" textLength="79.8" lengthAdjust="spacingAndGlyphs" stroke="#3d68b8" stroke-width="0.22" >Support area</text>
<text x="1577.1" y="747.4" font-size="10" fill="#111" textLength="52.7" lengthAdjust="spacingAndGlyphs" >40.00-50.00</text>
<text x="920.4" y="655.9" font-size="12" fill="#6a6d78" textLength="15.0" lengthAdjust="spacingAndGlyphs" stroke="#6a6d78" stroke-width="0.22" >RSI</text>
<text x="943.6" y="655.9" font-size="12" fill="#7e57c2" textLength="28.8" lengthAdjust="spacingAndGlyphs" stroke="#7e57c2" stroke-width="0.22" >53.15</text>
<text x="1762.6" y="17.8" font-size="12" fill="#52545c" textLength="19.9" lengthAdjust="spacingAndGlyphs" stroke="#52545c" stroke-width="0.22" >USD</text>
<text x="1762.6" y="43.0" font-size="12" fill="#52545c" textLength="41.4" lengthAdjust="spacingAndGlyphs" stroke="#52545c" stroke-width="0.22" >110.000</text>
<text x="1762.6" y="113.8" font-size="12" fill="#52545c" textLength="41.4" lengthAdjust="spacingAndGlyphs" stroke="#52545c" stroke-width="0.22" >108.000</text>
<text x="1762.6" y="149.2" font-size="12" fill="#52545c" textLength="41.4" lengthAdjust="spacingAndGlyphs" stroke="#52545c" stroke-width="0.22" >107.000</text>
<text x="1762.6" y="184.6" font-size="12" fill="#52545c" textLength="41.4" lengthAdjust="spacingAndGlyphs" stroke="#52545c" stroke-width="0.22" >106.000</text>
<text x="1762.6" y="220.0" font-size="12" fill="#52545c" textLength="41.4" lengthAdjust="spacingAndGlyphs" stroke="#52545c" stroke-width="0.22" >105.000</text>
<text x="1762.6" y="255.4" font-size="12" fill="#52545c" textLength="41.4" lengthAdjust="spacingAndGlyphs" stroke="#52545c" stroke-width="0.22" >104.000</text>
<text x="1762.6" y="290.8" font-size="12" fill="#52545c" textLength="41.4" lengthAdjust="spacingAndGlyphs" stroke="#52545c" stroke-width="0.22" >103.000</text>
<text x="1762.6" y="326.2" font-size="12" fill="#52545c" textLength="41.4" lengthAdjust="spacingAndGlyphs" stroke="#52545c" stroke-width="0.22" >102.000</text>
<text x="1762.6" y="432.4" font-size="12" fill="#52545c" textLength="34.7" lengthAdjust="spacingAndGlyphs" stroke="#52545c" stroke-width="0.22" >99.000</text>
<text x="1762.6" y="467.8" font-size="12" fill="#52545c" textLength="34.7" lengthAdjust="spacingAndGlyphs" stroke="#52545c" stroke-width="0.22" >98.000</text>
<text x="1762.6" y="503.2" font-size="12" fill="#52545c" textLength="34.7" lengthAdjust="spacingAndGlyphs" stroke="#52545c" stroke-width="0.22" >97.000</text>
<text x="1762.6" y="538.6" font-size="12" fill="#52545c" textLength="34.7" lengthAdjust="spacingAndGlyphs" stroke="#52545c" stroke-width="0.22" >96.000</text>
<text x="1762.6" y="574.0" font-size="12" fill="#52545c" textLength="34.7" lengthAdjust="spacingAndGlyphs" stroke="#52545c" stroke-width="0.22" >95.000</text>
<text x="1762.6" y="609.4" font-size="12" fill="#52545c" textLength="34.7" lengthAdjust="spacingAndGlyphs" stroke="#52545c" stroke-width="0.22" >94.000</text>
<text x="1761.8" y="705.8" font-size="12" fill="#52545c" textLength="29.5" lengthAdjust="spacingAndGlyphs" stroke="#52545c" stroke-width="0.22" >60.00</text>
<text x="1761.8" y="756.3" font-size="12" fill="#52545c" textLength="29.5" lengthAdjust="spacingAndGlyphs" stroke="#52545c" stroke-width="0.22" >40.00</text>
<text x="1008.2" y="807.7" font-size="12.5" fill="#4a4d57" textLength="19.4" lengthAdjust="spacingAndGlyphs" stroke="#4a4d57" stroke-width="0.22" >Mar</text>
<text x="1124.0" y="807.7" font-size="12.5" fill="#4a4d57" textLength="20.0" lengthAdjust="spacingAndGlyphs" stroke="#4a4d57" stroke-width="0.22" >May</text>
<text x="1242.9" y="807.7" font-size="12.5" fill="#4a4d57" textLength="15.2" lengthAdjust="spacingAndGlyphs" stroke="#4a4d57" stroke-width="0.22" >Jul</text>
<text x="1357.0" y="807.7" font-size="12.5" fill="#4a4d57" textLength="19.0" lengthAdjust="spacingAndGlyphs" stroke="#4a4d57" stroke-width="0.22" >Sep</text>
<text x="1471.0" y="807.7" font-size="12.5" fill="#4a4d57" textLength="20.0" lengthAdjust="spacingAndGlyphs" stroke="#4a4d57" stroke-width="0.22" >Nov</text>
<text x="1697.3" y="807.7" font-size="12.5" fill="#4a4d57" textLength="19.4" lengthAdjust="spacingAndGlyphs" stroke="#4a4d57" stroke-width="0.22" >Mar</text>
<text x="1582.6" y="807.5" font-size="12.5" fill="#3a3d47" textLength="27.1" lengthAdjust="spacingAndGlyphs" font-weight="bold" >2023</text>
<path d="M912.4 636.5H1815.0" stroke="#33363f" stroke-width="1" />
<path d="M912.4 789.5H1815.0" stroke="#33363f" stroke-width="1" />
<path d="M1752.5 0.0V815.0" stroke="#33363f" stroke-width="1" />
<rect x="1719.0" y="151.5" width="90.0" height="17.8" fill="#fff" />
<text x="1724.4" y="165.3" font-size="12" fill="#363a45" textLength="19.5" lengthAdjust="spacingAndGlyphs" stroke="#363a45" stroke-width="0.22" >DXY</text>
<text x="1763.0" y="165.3" font-size="12" fill="#1b1e27" textLength="40.4" lengthAdjust="spacingAndGlyphs" stroke="#1b1e27" stroke-width="0.22" >106.577</text>
<rect x="1752.3" y="66.3" width="58.7" height="16.0" rx="2" fill="#f23645"/>
<text x="1763.0" y="78.7" font-size="12" fill="#fff" textLength="41.0" lengthAdjust="spacingAndGlyphs" font-weight="bold" >109.000</text>
<rect x="1752.3" y="353.2" width="58.7" height="16.2" rx="2" fill="#2b63f3"/>
<text x="1763.0" y="365.7" font-size="12" fill="#fff" textLength="41.0" lengthAdjust="spacingAndGlyphs" font-weight="bold" >100.920</text>
<rect x="1752.3" y="385.5" width="58.7" height="16.1" rx="2" fill="#2b63f3"/>
<text x="1763.0" y="398.0" font-size="12" fill="#fff" textLength="41.0" lengthAdjust="spacingAndGlyphs" font-weight="bold" >100.000</text>
<rect x="1752.3" y="479.0" width="51.6" height="14.0" rx="2" fill="#2b63f3"/>
<text x="1762.5" y="490.4" font-size="12" fill="#fff" textLength="34.8" lengthAdjust="spacingAndGlyphs" font-weight="bold" >97.450</text>
<rect x="1752.3" y="465.2" width="51.6" height="16.4" rx="2" fill="#2b63f3"/>
<text x="1762.5" y="477.8" font-size="12" fill="#fff" textLength="34.8" lengthAdjust="spacingAndGlyphs" font-weight="bold" >97.760</text>
<rect x="1752.3" y="575.2" width="51.6" height="16.2" rx="2" fill="#2b63f3"/>
<text x="1762.5" y="587.7" font-size="12" fill="#fff" textLength="34.8" lengthAdjust="spacingAndGlyphs" font-weight="bold" >94.650</text>
<rect x="1752.3" y="646.1" width="45.5" height="16.6" rx="2" fill="#f23645"/>
<text x="1762.5" y="658.8" font-size="12" fill="#fff" textLength="29.0" lengthAdjust="spacingAndGlyphs" font-weight="bold" >79.23</text>
<rect x="905.0" y="0.0" width="2.2" height="815.0" fill="#d6d6d6" />
<rect x="907.0" y="0.0" width="5.4" height="815.0" fill="#1e222d" />
<path d="M0.0 0.5H1815.0" stroke="#8f8f8f" stroke-width="1" />
<path d="M0.6 0.0V815.0" stroke="#9a9a9a" stroke-width="1.4" />
<defs>
<linearGradient id="wr" gradientUnits="userSpaceOnUse" x1="6" y1="-22" x2="-8" y2="22"><stop offset="0" stop-color="#ec4b1b"/><stop offset="1" stop-color="#cb2419"/></linearGradient>
<linearGradient id="wy" gradientUnits="userSpaceOnUse" x1="0" y1="-14" x2="0" y2="19"><stop offset="0" stop-color="#ffe676"/><stop offset="0.55" stop-color="#fcc445"/><stop offset="1" stop-color="#f7941d"/></linearGradient>
</defs>
<g transform="translate(1680.9,765.4)">
<clipPath id="wc"><circle r="22.6"/></clipPath><circle r="22.6" fill="url(#wr)"/><g clip-path="url(#wc)">
<path d="M-13.2 -1C-13.6 -6 -10 -9.6 -7.2 -9.5C-6.4 -12.8 -1 -14.6 2.6 -12.4C5.2 -14 10.2 -12.8 12 -9.4C15 -7 15.6 -1 13.6 3.4C11.4 10.5 5 16.4 -3 18.6C-6.5 19.5 -10 19 -11.8 17.7L-14 10Z" fill="url(#wy)"/>
<path d="M-15.5 4.6C-14 4 -13 3.6 -11.8 3.9C-10.5 5.6 -9 6.3 -7.2 6.4C-5.4 6.7 -3.2 6.6 -1.5 5.9C0.2 5.3 1.5 4.6 2.1 3.3C2.8 2.2 3 1.2 2.6 0.2C2.1 -1 1.2 -1.8 0.2 -1.8C-0.8 -1.8 -1.6 -1.4 -2.2 -0.7C-2.9 -1.4 -2.8 -2.4 -2 -3.1C-1 -3.9 0.5 -4 1.8 -3.6C3.4 -3 4.5 -1.2 4.9 1C5.3 3.2 5.2 5 4.4 7C3.6 9 2 11 -0.2 12.6C-2.8 14.4 -6 15.6 -8.6 16.5C-10 17 -11 17.3 -11.8 17.7L-16 19Z" fill="url(#wr)"/>
</g></g>
<g fill="#a9a9a9" opacity="0.95">
<text x="1709.6" y="773.2" font-size="30" font-weight="900" font-family="'Liberation Serif','Noto Serif CJK SC',serif" textLength="90.4" lengthAdjust="spacingAndGlyphs">中金网</text>
<text x="1710" y="786.6" font-size="8.8" textLength="89.4" lengthAdjust="spacing" fill="#b2b2b2">CNGOLD.COM.CN</text>
<text x="1661.6" y="801" font-size="11.6" textLength="135.8" lengthAdjust="spacing" fill="#b4b4b4">中文财经新媒体</text>
</g>

</svg>
</body></html>
